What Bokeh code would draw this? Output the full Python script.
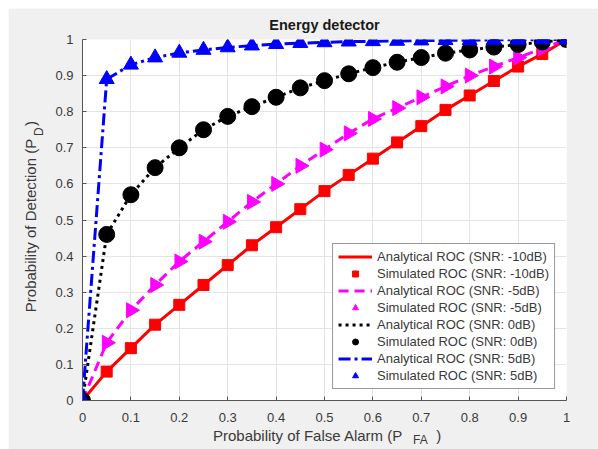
import numpy as np
from bokeh.plotting import figure
from bokeh.models import FixedTicker, CustomJSTickFormatter, LinearAxis, Range1d, Spacer
from bokeh.layouts import column, row
from bokeh.embed import file_html
from bokeh.resources import INLINE

# ---- data ----
pfa = [0.0, 0.05, 0.10, 0.15, 0.20, 0.25, 0.30, 0.35, 0.40, 0.45, 0.50,
       0.55, 0.60, 0.65, 0.70, 0.75, 0.80, 0.85, 0.90, 0.95, 1.0]
pd_snr_m10 = [0.0, 0.08, 0.145, 0.21, 0.265, 0.32, 0.375, 0.43, 0.48, 0.53, 0.58,
              0.625, 0.67, 0.715, 0.76, 0.805, 0.845, 0.885, 0.925, 0.96, 1.0]
pd_snr_m5 = [0.0, 0.16, 0.25, 0.32, 0.385, 0.44, 0.495, 0.55, 0.60, 0.65, 0.695,
             0.74, 0.78, 0.81, 0.84, 0.87, 0.90, 0.925, 0.95, 0.975, 1.0]
pd_snr_0 = [0.0, 0.46, 0.57, 0.645, 0.70, 0.75, 0.787, 0.814, 0.84, 0.866, 0.886,
            0.905, 0.922, 0.937, 0.95, 0.962, 0.971, 0.979, 0.986, 0.993, 1.0]
pd_snr_5 = [0.0, 0.89, 0.93, 0.95, 0.963, 0.971, 0.978, 0.983, 0.987, 0.99, 0.992,
            0.994, 0.995, 0.996, 0.997, 0.998, 0.998, 0.999, 0.999, 1.0, 1.0]
ticks = [0, 0.1, 0.2, 0.3, 0.4, 0.5, 0.6, 0.7, 0.8, 0.9, 1]
snr_labels = ["-10dB", "-5dB", "0dB", "5dB"]
title_text = "Energy detector"
x_label, x_sub, x_close = "Probability of False Alarm (P", "FA", ")"
y_label, y_sub, y_close = "Probability of Detection (P", "D", ")"

FONT = "Liberation Sans"
TXT = "#3a3a3a"

p = figure(width=590, height=441, output_backend="svg", toolbar_location=None,
           x_range=Range1d(0, 1), y_range=Range1d(0, 1),
           title=title_text,
           min_border_left=74, min_border_right=32, min_border_top=31, min_border_bottom=49)
p.border_fill_color = "#f0f0f0"
p.background_fill_color = "white"
p.outline_line_color = None

p.title.align = "center"
p.title.text_font = FONT
p.title.text_font_size = "14.5px"
p.title.text_font_style = "bold"
p.title.text_color = "#1a1a1a"
p.title.standoff = 13

for ax in (p.xaxis[0], p.yaxis[0]):
    ax.ticker = FixedTicker(ticks=ticks, minor_ticks=[])
    ax.formatter = CustomJSTickFormatter(code="return tick.toFixed(1).replace(/\\.0$/, '');")
    ax.major_tick_in = 4
    ax.major_tick_out = 0
    ax.minor_tick_line_color = None
    ax.axis_line_color = "#555555"
    ax.major_tick_line_color = "#555555"
    ax.major_label_text_font = FONT
    ax.major_label_text_font_size = "13px"
    ax.major_label_text_color = TXT
p.xaxis.major_label_standoff = 12
p.yaxis.major_label_standoff = 9

p.grid.grid_line_color = "#e4e4e4"
p.grid.grid_line_width = 1

lw = 3
series = [
    (pd_snr_m10, "red", "solid", "square", 11, 0),
    (pd_snr_m5, "#ff00ff", "10 6", "triangle", 15, -np.pi / 2),
    (pd_snr_0, "black", "3 4", "circle", 16, 0),
    (pd_snr_5, "blue", "12 4 3 4", "triangle", 15, 0),
]
for (vals, col, dash, mk, sz, ang), snr in zip(series, snr_labels):
    p.line(pfa, vals, line_color=col, line_width=lw, line_dash=dash,
           legend_label=f"Analytical ROC (SNR: {snr})")
    p.scatter(pfa, vals, marker=mk, size=sz, angle=ang, fill_color=col, line_color=col,
              legend_label=f"Simulated ROC (SNR: {snr})")

lg = p.legend[0]
lg.location = "bottom_right"
lg.margin = 11
lg.padding = 5
lg.spacing = 2
lg.glyph_width = 34
lg.glyph_height = 15
lg.label_height = 15
lg.label_standoff = 5
lg.label_text_font = FONT
lg.label_text_font_size = "13px"
lg.label_text_color = TXT
lg.border_line_color = "#333333"
lg.border_line_width = 1
lg.background_fill_color = "white"

# axis titles with subscripts, drawn as tick labels of extra label-only axes
JS = ("let k = 0; for (let j = 0; j < t.length; j++) { if (Math.abs(t[j] - tick) < Math.abs(t[k] - tick)) k = j; }"
      " return s[k];")


def label_axis(pos, texts, size, standoff, orient="horizontal"):
    ax = LinearAxis(ticker=FixedTicker(ticks=pos, minor_ticks=[]),
                    formatter=CustomJSTickFormatter(args=dict(t=pos, s=texts), code=JS),
                    axis_line_color=None, major_tick_line_color=None, minor_tick_line_color=None,
                    major_tick_in=0, major_tick_out=0, minor_tick_in=0, minor_tick_out=0,
                    major_label_standoff=standoff, major_label_orientation=orient,
                    major_label_text_font=FONT, major_label_text_font_size=size,
                    major_label_text_color=TXT)
    return ax


p.add_layout(label_axis([0.466, 0.736], [x_label, x_close], "15px", 2), "below")
p.add_layout(label_axis([0.698], [x_sub], "12px", -14), "below")
p.add_layout(label_axis([0.745], [y_sub], "12px", 6, "parallel"), "left")
p.add_layout(label_axis([0.4848, 0.767], [y_label, y_close], "15px", -10, "parallel"), "left")

layout = column(Spacer(height=8), row(Spacer(width=8), p))
open("out.html", "w").write(file_html(layout, INLINE))
